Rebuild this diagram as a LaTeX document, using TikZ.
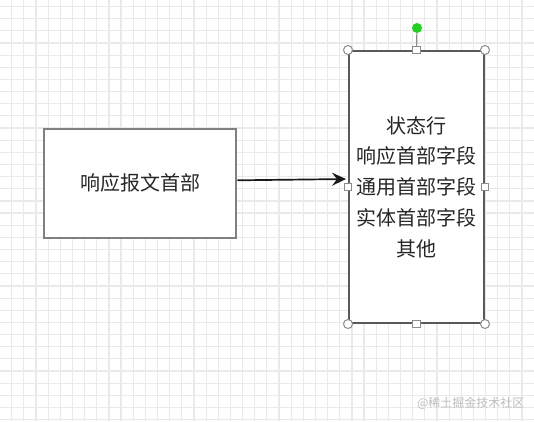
\documentclass[tikz,border=0pt]{standalone}
\usepackage{fontspec}
\setmainfont{Noto Sans CJK SC}
\usetikzlibrary{arrows.meta}
\definecolor{gridc}{HTML}{EAEAEA}
\definecolor{boxa}{HTML}{808080}
\definecolor{boxb}{HTML}{5A5A5A}
\definecolor{handle}{HTML}{8C8C8C}
\definecolor{rotgreen}{HTML}{1ED21E}
\definecolor{wm}{HTML}{BDBDBD}
\tikzset{
  box/.style={draw, line width=2pt, fill=white, inner sep=0pt, font=\fontsize{20}{30.7}\selectfont, text=black!85},
  arr/.style={draw=black!90, line width=1.7pt, -{Stealth[length=14pt,width=13pt,inset=5pt]}},
  cornerh/.style={circle, draw=handle, fill=white, line width=1pt, minimum size=9pt, inner sep=0pt},
  sideh/.style={rectangle, draw=handle, fill=white, line width=1pt, minimum size=7.5pt, inner sep=0pt},
}
\begin{document}
\begin{tikzpicture}[x=1pt,y=-1pt]
\useasboundingbox (0,0) rectangle (534,421);
\fill[white] (0,0) rectangle (534,421);
% grid
\foreach \i in {0,...,43} {
  \draw[gridc, line width=1.2pt] ({11.7+12.15*\i},0) -- ({11.7+12.15*\i},421);
}
\foreach \j in {0,...,34} {
  \draw[gridc, line width=1.2pt] (0,{6.5+12.15*\j}) -- (534,{6.5+12.15*\j});
}
% boxes
\node[box, draw=boxa, minimum width=192.5pt, minimum height=108.5pt] (hdr) at (140.2,183.3) {响应报文首部};
\node[box, draw=boxb, minimum width=135pt, minimum height=272pt, align=center] (fields) at (416.5,187)
  {状态行\\响应首部字段\\通用首部字段\\实体首部字段\\其他};
% connector
\draw[arr, shorten >=2pt] ([yshift=3pt]hdr.east) -- ([yshift=8pt]fields.west);
% selection handles
\node[circle, fill=rotgreen, minimum size=10pt, inner sep=0pt] (rot) at (417,28) {};
\draw[handle, line width=1.2pt] (rot) -- (fields.north);
\foreach \a/\n in {north west/hnw, north east/hne, south west/hsw, south east/hse} {
  \node[cornerh] (\n) at (fields.\a) {};
}
\foreach \a/\n in {north/hn, south/hs, west/hw, east/he} {
  \node[sideh] (\n) at (fields.\a) {};
}
% watermark
\node[text=wm, font=\fontsize{12}{12}\selectfont, anchor=east] (wmk) at (528,403) {@稀土掘金技术社区};
\end{tikzpicture}
\end{document}
